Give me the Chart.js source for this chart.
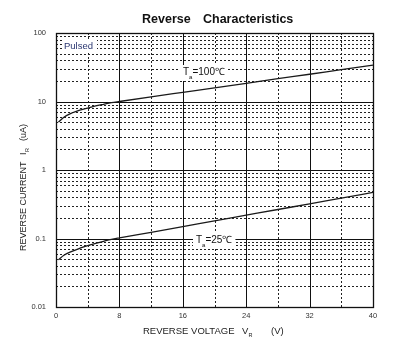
<!DOCTYPE html>
<html><head><meta charset="utf-8">
<script src="https://cdn.jsdelivr.net/npm/chart.js@4/dist/chart.umd.min.js"></script>
<style>html,body{margin:0;padding:0;background:#fff;}</style>
</head><body>
<canvas id="c" width="398" height="347" style="width:398px;height:347px;display:block"></canvas>
<script>
// ---- data ----
const voltage = [0.3, 1, 2, 3, 4, 5, 6, 7, 8, 12, 16, 20, 24, 28, 32, 36, 40];
const current100C = [5.0, 5.9, 6.8, 7.5, 8.0, 8.6, 9.1, 9.6, 10.0, 11.7, 13.6, 15.8, 18.4, 21.5, 25.0, 29.2, 34.0];
const current25C = [0.049, 0.057, 0.065, 0.072, 0.079, 0.085, 0.091, 0.097, 0.102, 0.123, 0.149, 0.181, 0.219, 0.265, 0.320, 0.388, 0.470];
const xTicks = [0, 8, 16, 24, 32, 40];
const xMinorGrid = [4, 12, 20, 28, 36];
const yTicks = [0.01, 0.1, 1, 10, 100];
const yTickLabels = ['0.01', '0.1', '1', '10', '100'];
const yMinorGrid = [0.02, 0.03, 0.04, 0.05, 0.06, 0.07, 0.08, 0.09,
                    0.2, 0.3, 0.4, 0.5, 0.6, 0.7, 0.8, 0.9,
                    2, 3, 4, 5, 6, 7, 8, 9,
                    20, 30, 40, 50, 60, 70, 80, 90];

const FONT = '"Liberation Sans", Arial, sans-serif';

function pts(xs, ys) { return xs.map((x, i) => ({ x: x, y: ys[i] })); }

const gridPlugin = {
  id: 'gridPlugin',
  beforeDatasetsDraw(chart) {
    const { ctx, chartArea: a, scales: { x, y } } = chart;
    ctx.save();
    // minor dotted
    ctx.strokeStyle = '#222';
    ctx.lineWidth = 1;
    ctx.setLineDash([2, 2]);
    xMinorGrid.forEach(v => {
      const px = Math.round(x.getPixelForValue(v)) + 0.5;
      ctx.beginPath(); ctx.moveTo(px, a.top); ctx.lineTo(px, a.bottom); ctx.stroke();
    });
    yMinorGrid.forEach(v => {
      const py = Math.round(y.getPixelForValue(v)) + 0.5;
      ctx.beginPath(); ctx.moveTo(a.left, py); ctx.lineTo(a.right, py); ctx.stroke();
    });
    // major solid
    ctx.setLineDash([]);
    ctx.strokeStyle = '#111';
    xTicks.forEach(v => {
      const px = Math.round(x.getPixelForValue(v)) + 0.5;
      ctx.beginPath(); ctx.moveTo(px, a.top); ctx.lineTo(px, a.bottom); ctx.stroke();
    });
    yTicks.forEach(v => {
      const py = Math.round(y.getPixelForValue(v)) + 0.5;
      ctx.beginPath(); ctx.moveTo(a.left, py); ctx.lineTo(a.right, py); ctx.stroke();
    });
    ctx.lineWidth = 1.3;
    ctx.strokeRect(Math.round(a.left) + 0.5, Math.round(a.top) + 0.5,
                   Math.round(a.right - a.left), Math.round(a.bottom - a.top));
    ctx.restore();
  },
  afterDatasetsDraw(chart) {
    const { ctx } = chart;
    ctx.save();
    ctx.textBaseline = 'alphabetic';
    // Pulsed label
    ctx.font = '9.5px ' + FONT;
    ctx.fillStyle = '#fff';
    ctx.fillRect(63, 39, 34, 12);
    ctx.fillStyle = '#2a3670';
    ctx.fillText('Pulsed', 64, 49);

    function tempLabel(left, base, temp) {
      ctx.font = '10px ' + FONT;
      const wT = ctx.measureText('T').width;
      ctx.font = '6px ' + FONT;
      const wA = ctx.measureText('a').width;
      ctx.font = '10px ' + FONT;
      const wR = ctx.measureText('=' + temp + '\u2103').width;
      ctx.fillStyle = '#fff';
      ctx.fillRect(left - 3, base - 10, wT + wA + wR + 6, 16);
      ctx.fillStyle = '#111';
      ctx.fillText('T', left, base);
      ctx.font = '6px ' + FONT;
      ctx.fillText('a', left + wT, base + 4);
      ctx.font = '10px ' + FONT;
      ctx.fillText('=' + temp + '\u2103', left + wT + wA, base);
    }
    tempLabel(183, 75, '100');
    tempLabel(196, 243, '25');

    // title
    ctx.fillStyle = '#111';
    ctx.font = 'bold 12.5px ' + FONT;
    ctx.fillText('Reverse', 142, 23);
    ctx.fillText('Characteristics', 203, 23);

    // x-axis title
    ctx.fillStyle = '#222';
    ctx.font = '9.5px ' + FONT;
    ctx.fillText('REVERSE VOLTAGE', 143, 334);
    ctx.fillText('V', 242, 334);
    ctx.fillText('(V)', 271, 334);
    ctx.font = '5.5px ' + FONT;
    ctx.fillText('R', 248.5, 337);

    // y-axis title (rotated)
    ctx.save();
    ctx.translate(26, 0);
    ctx.rotate(-Math.PI / 2);
    ctx.font = '9px ' + FONT;
    ctx.fillText('REVERSE CURRENT', -251, 0);
    ctx.fillText('I', -155, 0);
    ctx.fillText('(uA)', -141, 0);
    ctx.font = '5.5px ' + FONT;
    ctx.fillText('R', -152, 3);
    ctx.restore();

    ctx.restore();
  }
};

new Chart(document.getElementById('c'), {
  type: 'line',
  data: {
    datasets: [
      { data: pts(voltage, current100C), borderColor: '#1a1a1a', borderWidth: 1.3, pointRadius: 0, cubicInterpolationMode: 'monotone', fill: false },
      { data: pts(voltage, current25C), borderColor: '#1a1a1a', borderWidth: 1.3, pointRadius: 0, cubicInterpolationMode: 'monotone', fill: false }
    ]
  },
  options: {
    responsive: false,
    animation: false,
    devicePixelRatio: 1,
    layout: { padding: { top: 33, right: 25, left: 0, bottom: 0 } },
    plugins: { legend: { display: false }, tooltip: { enabled: false }, title: { display: false } },
    scales: {
      x: {
        type: 'linear', min: 0, max: 40,
        afterBuildTicks: s => { s.ticks = xTicks.map(v => ({ value: v })); },
        afterFit: s => { s.height = 40; },
        grid: { display: false, drawTicks: false },
        border: { display: false },
        ticks: { font: { size: 7.5, family: FONT }, color: '#333', padding: 4, maxRotation: 0, autoSkip: false }
      },
      y: {
        type: 'logarithmic', min: 0.01, max: 100,
        afterBuildTicks: s => { s.ticks = yTicks.map(v => ({ value: v })); },
        afterFit: s => { s.width = 56; },
        grid: { display: false, drawTicks: false },
        border: { display: false },
        ticks: {
          font: { size: 7.5, family: FONT }, color: '#333', padding: 10, autoSkip: false,
          callback: (v, i) => yTickLabels[i]
        }
      }
    }
  },
  plugins: [gridPlugin]
});
</script>
</body></html>
